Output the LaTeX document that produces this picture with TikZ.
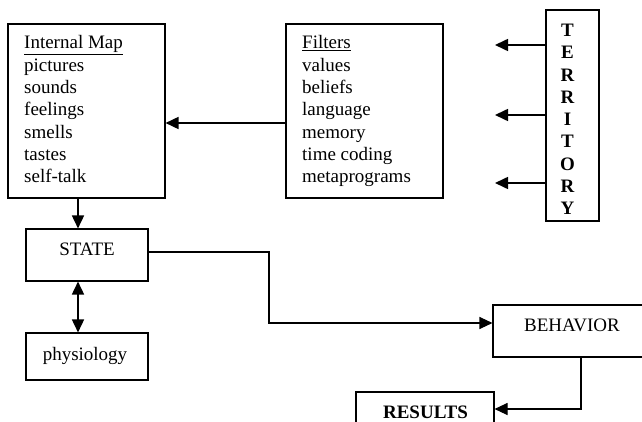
\documentclass[tikz,border=0pt]{standalone}
\usepackage{fontspec}
\setmainfont{Liberation Serif}
\usetikzlibrary{arrows.meta}
\tikzset{
  box/.style={draw, line width=1.1pt, rectangle, inner sep=0pt},
  txt/.style={inner sep=0pt, font=\fontsize{19}{22.3}\selectfont},
  btxt/.style={inner sep=0pt, font=\fontsize{19}{22.3}\selectfont\bfseries},
  tip/.tip={Triangle[length=13pt,width=12pt]},
  arr/.style={line width=1.6pt, -tip},
  thin arr/.style={line width=1.1pt, -tip},
  dbl/.style={line width=1.6pt, tip-tip}
}
\begin{document}
\begin{tikzpicture}[x=1pt,y=-1pt]
\useasboundingbox (0,0) rectangle (642,422);
\clip (0,0) rectangle (642,422);
% boxes
\node[box, minimum width=157pt, minimum height=174pt] (imap) at (86.5,111) {};
\node[box, minimum width=157pt, minimum height=174pt] (filt) at (364.5,111) {};
\node[box, minimum width=53pt, minimum height=211pt] (terr) at (572.5,115.5) {};
\node[box, minimum width=122pt, minimum height=52pt] (state) at (87,255) {};
\node[box, minimum width=122pt, minimum height=47pt] (phys) at (87,356.5) {};
\node[box, minimum width=170pt, minimum height=52pt] (beh) at (578,331) {};
\node[box, minimum width=138pt, minimum height=50pt] (res) at (425,417) {};
% texts
\node[txt, anchor=base west] (imt0) at (24,49) {\underline{Internal Map}};
\foreach \t [count=\i] in {pictures,sounds,feelings,smells,tastes,self-talk}
  \node[txt, anchor=base west] (imt\i) at (24,49+22.3*\i) {\t};
\node[txt, anchor=base west] (ft0) at (302,49) {\underline{Filters}};
\foreach \t [count=\i] in {values,beliefs,language,memory,time coding,metaprograms}
  \node[txt, anchor=base west] (ft\i) at (302,49+22.3*\i) {\t};
\foreach \t [count=\i] in {T,E,R,R,I,T,O,R,Y}
  \node[btxt, anchor=base] (tt\i) at (567.5,36.5+22.3*\i-22.3) {\t};
\node[txt, anchor=base] (stt) at (87,255) {STATE};
\node[txt, anchor=base] (pht) at (85,360) {physiology};
\node[txt, anchor=base] (bht) at (572,331) {BEHAVIOR};
\node[btxt, anchor=base] (rst) at (425.5,418) {RESULTS};
% coordinates
\coordinate (ay) at (0,123);
\coordinate (t1) at (495,45);
\coordinate (t2) at (495,115);
\coordinate (t3) at (495,183);
\coordinate (cx) at (78,0);
\coordinate (s1) at (148,252);
\coordinate (s2) at (269,323);
\coordinate (b1) at (581,409);
% connectors
\draw[arr] (filt.west |- ay) -- (imap.east |- ay);
\draw[arr] (terr.west |- t1) -- (t1);
\draw[arr] (terr.west |- t2) -- (t2);
\draw[arr] (terr.west |- t3) -- (t3);
\draw[arr] (cx |- imap.south) -- (cx |- state.north);
\draw[dbl] (cx |- state.south) -- (cx |- phys.north);
\draw[thin arr] (state.east |- s1) -| (s2) -- (beh.west |- s2);
\draw[thin arr] (b1 |- beh.south) |- (res.east |- b1);
\end{tikzpicture}
\end{document}
